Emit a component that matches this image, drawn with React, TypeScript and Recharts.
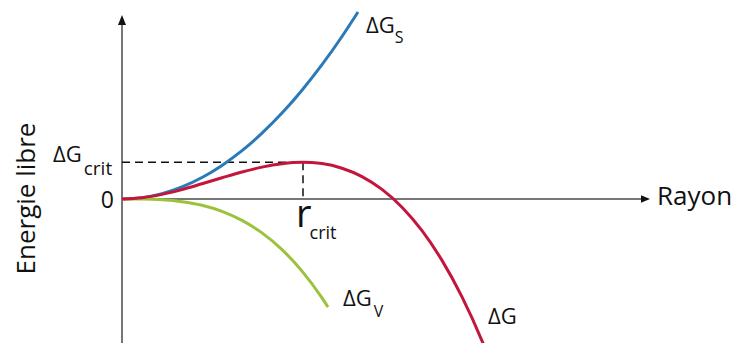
import React from 'react';
import { ComposedChart, Line, XAxis, YAxis, ReferenceLine, ReferenceDot } from 'recharts';

// Radius (x, arbitrary units) and energy (y, arbitrary units)
const radiusS = [0, 20, 40, 60, 80, 100, 120, 140, 160, 180, 200, 220, 236];
const energyS = [0, 1.3, 5.4, 12.1, 21.5, 33.6, 48.3, 65.8, 85.9, 108.8, 134.3, 162.5, 187.0];

const radiusV = [0, 20, 40, 60, 80, 100, 120, 140, 160, 180, 200, 206];
const energyV = [0, -0.1, -0.8, -2.7, -6.3, -12.4, -21.4, -33.9, -50.6, -72.1, -98.9, -108.1];

const radiusG = [0, 20, 40, 60, 80, 100, 120, 140, 160, 180, 200, 220, 240, 260, 280, 300, 320, 340, 360, 370];
const energyG = [0, 1.2, 4.6, 9.4, 15.2, 21.2, 27.0, 31.9, 35.3, 36.7, 35.4, 30.8, 22.4, 9.6, -8.2, -31.7, -61.4, -97.9, -141.8, -166.7];

const rCrit = 181;
const gCrit = 36.7;

const xMax = 528;
const yMin = -144;
const yMax = 199;
const yAxisTop = 184;

const dataS = radiusS.map((r, i) => ({ r, v: energyS[i] }));
const dataV = radiusV.map((r, i) => ({ r, v: energyV[i] }));
const dataG = radiusG.map((r, i) => ({ r, v: energyG[i] }));

const FONT = '"Open Sans", sans-serif';
const AXIS = '#4a4a4a';
const TXT = '#111';

const label = (render: (cx: number, cy: number) => React.ReactElement) => (p: any) => render(p.cx, p.cy);

export default function App() {
  return (
    <div style={{ position: 'absolute', left: 0, top: 0, width: 737, height: 343, background: '#fff' }}>
      <ComposedChart width={737} height={343} margin={{ top: 0, right: 87, bottom: 0, left: 122 }}>
        <XAxis type="number" dataKey="r" domain={[0, xMax]} hide allowDataOverflow />
        <YAxis type="number" domain={[yMin, yMax]} hide allowDataOverflow />

        <ReferenceLine segment={[{ x: 0, y: 0 }, { x: xMax - 4, y: 0 }]} stroke={AXIS} strokeWidth={1.5} ifOverflow="visible" />
        <ReferenceLine segment={[{ x: 0, y: yMin }, { x: 0, y: yAxisTop - 4 }]} stroke={AXIS} strokeWidth={1.5} ifOverflow="visible" />
        <ReferenceDot x={xMax} y={0} r={0} ifOverflow="visible"
          shape={label((cx, cy) => <polygon points={`${cx},${cy} ${cx - 9},${cy - 3.8} ${cx - 9},${cy + 3.8}`} fill="#111" />)} />
        <ReferenceDot x={0} y={yAxisTop} r={0} ifOverflow="visible"
          shape={label((cx, cy) => <polygon points={`${cx},${cy} ${cx - 4},${cy + 10} ${cx + 4},${cy + 10}`} fill="#111" />)} />

        <ReferenceLine segment={[{ x: 0, y: gCrit }, { x: rCrit, y: gCrit }]} stroke="#111" strokeWidth={1.5} strokeDasharray="8 5" ifOverflow="visible" />
        <ReferenceLine segment={[{ x: rCrit, y: gCrit }, { x: rCrit, y: 0 }]} stroke="#111" strokeWidth={1.5} strokeDasharray="8 5" ifOverflow="visible" />

        <Line data={dataS} dataKey="v" type="monotone" stroke="#2a79b9" strokeWidth={3} dot={false} isAnimationActive={false} />
        <Line data={dataV} dataKey="v" type="monotone" stroke="#9cc23c" strokeWidth={3} dot={false} isAnimationActive={false} />
        <Line data={dataG} dataKey="v" type="monotone" stroke="#c3163c" strokeWidth={3} dot={false} isAnimationActive={false} />

        <ReferenceDot x={244} y={166} r={0} ifOverflow="visible"
          shape={label((cx, cy) => (
            <text x={cx} y={cy} fontFamily={FONT} fontSize={22} fill={TXT}>
              ΔG<tspan fontSize={16} dy={10} dx={0}>S</tspan>
            </text>
          ))} />
        <ReferenceDot x={-69} y={gCrit} r={0} ifOverflow="visible"
          shape={label((cx, cy) => (
            <text x={cx} y={cy} fontFamily={FONT} fontSize={22} fill={TXT}>
              ΔG<tspan fontSize={19} dy={13} dx={2}>crit</tspan>
            </text>
          ))} />
        <ReferenceDot x={-8} y={-9} r={0} ifOverflow="visible"
          shape={label((cx, cy) => (
            <text x={cx} y={cy} fontFamily={FONT} fontSize={23} fill={TXT} textAnchor="end">0</text>
          ))} />
        <ReferenceDot x={174} y={-27.5} r={0} ifOverflow="visible"
          shape={label((cx, cy) => (
            <text x={cx} y={cy} fontFamily={FONT} fontSize={38} fill={TXT}>
              r<tspan fontSize={18} dy={12.5} dx={-2}>crit</tspan>
            </text>
          ))} />
        <ReferenceDot x={221} y={-107} r={0} ifOverflow="visible"
          shape={label((cx, cy) => (
            <text x={cx} y={cy} fontFamily={FONT} fontSize={22} fill={TXT}>
              ΔG<tspan fontSize={16} dy={11} dx={2}>V</tspan>
            </text>
          ))} />
        <ReferenceDot x={366} y={-125} r={0} ifOverflow="visible"
          shape={label((cx, cy) => (
            <text x={cx} y={cy} fontFamily={FONT} fontSize={22} fill={TXT}>ΔG</text>
          ))} />
        <ReferenceDot x={535} y={-6} r={0} ifOverflow="visible"
          shape={label((cx, cy) => (
            <text x={cx} y={cy} fontFamily={FONT} fontSize={26} fill={TXT}>Rayon</text>
          ))} />
        <ReferenceDot x={-87} y={0.5} r={0} ifOverflow="visible"
          shape={label((cx, cy) => (
            <text x={cx} y={cy} fontFamily={FONT} fontSize={26} fill={TXT} textAnchor="middle"
              transform={`rotate(-90 ${cx} ${cy})`}>Energie libre</text>
          ))} />
      </ComposedChart>
    </div>
  );
}
